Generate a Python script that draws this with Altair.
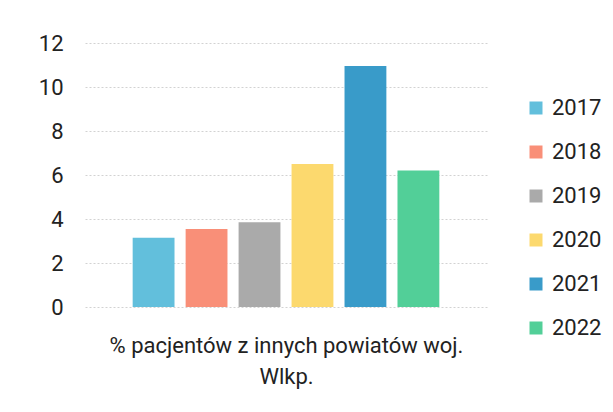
import altair as alt
import pandas as pd

years = ["2017", "2018", "2019", "2020", "2021", "2022"]
values = [3.15, 3.55, 3.85, 6.5, 10.95, 6.2]
colors = ["#62bfdc", "#f98f78", "#aaaaaa", "#fcd96e", "#399bc9", "#52cf98"]
y_ticks = [0, 2, 4, 6, 8, 10, 12]
x_title = ["% pacjentów z innych powiatów woj.", "Wlkp."]

df = pd.DataFrame({"rok": years, "wartosc": values})

FONT = "Roboto"
FS = 22

chart = alt.Chart(df).mark_bar().encode(
    x=alt.X("rok:N", sort=years,
            scale=alt.Scale(paddingInner=0.21, paddingOuter=0.9),
            axis=alt.Axis(title=x_title, labels=False, ticks=False, domain=False,
                          titleFontSize=FS, titleFont=FONT, titleFontWeight="normal",
                          titleColor="#222222", titlePadding=28, titleLineHeight=31)),
    y=alt.Y("wartosc:Q", scale=alt.Scale(domain=[0, 12], nice=False),
            axis=alt.Axis(title=None, values=y_ticks, domain=False, ticks=False,
                          labelFontSize=FS, labelFont=FONT, labelColor="#222222",
                          labelPadding=22, grid=True, gridColor="#d2d2d2",
                          gridDash=[2, 2], gridWidth=1)),
    color=alt.Color("rok:N", sort=years,
                    scale=alt.Scale(domain=years, range=colors),
                    legend=alt.Legend(title=None, orient="none", legendX=440, legendY=54,
                                      symbolType="square", symbolSize=169,
                                      symbolStrokeWidth=0, labelFontSize=FS,
                                      labelFont=FONT, labelColor="#222222",
                                      rowPadding=22, labelOffset=5)),
).properties(
    width=402,
    height=264,
    padding={"left": 77, "top": 35, "right": 118, "bottom": 97},
    autosize=alt.AutoSizeParams(type="none"),
).configure(background="white").configure_view(stroke=None)

chart.save("out.html", embed_options={"renderer": "svg", "actions": False})
